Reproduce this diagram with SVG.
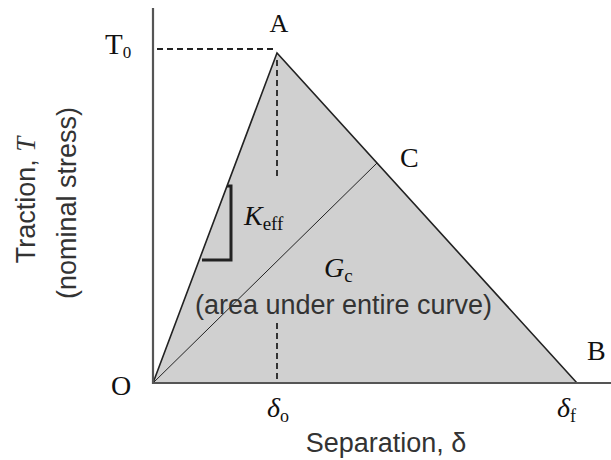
<svg xmlns="http://www.w3.org/2000/svg" width="611" height="460" viewBox="0 0 611 460">
  <style>
    .sans { font-family: "Liberation Sans", Arial, sans-serif; fill: #333; }
    .serif { font-family: "Liberation Serif", "Times New Roman", serif; fill: #111; }
    .it { font-style: italic; }
    .axis { stroke: #555; stroke-width: 2.2; fill: none; }
    .edge { stroke: #222; stroke-width: 1.6; fill: none; }
    .dash { stroke: #222; stroke-width: 1.8; stroke-dasharray: 6 4; fill: none; }
  </style>
  <rect width="611" height="460" fill="#fff"/>
  <g id="area">
    <polygon points="153,383 277,53 577,383" fill="#d0d0d0" stroke="none"/>
  </g>
  <g id="connectors">
    <line class="dash" x1="157" y1="49" x2="277" y2="49"/>
    <line class="dash" x1="277" y1="60" x2="277" y2="176"/>
    <line class="dash" x1="277" y1="323" x2="277" y2="383"/>
    <polyline class="edge" points="153,383 277,53 577,383"/>
    <line stroke="#222" stroke-width="1" x1="153" y1="383" x2="377" y2="163"/>
    <polyline fill="none" stroke="#222" stroke-width="3" points="227,186 231,186 231,260 202,260"/>
    <line class="axis" x1="153" y1="8" x2="153" y2="384"/>
    <line class="axis" x1="152" y1="383" x2="611" y2="383"/>
  </g>
  <g id="node-A"><text class="serif" x="279" y="32" font-size="26" text-anchor="middle">A</text></g>
  <g id="node-T0"><text class="serif" x="105" y="54" font-size="29">T<tspan font-size="17" dy="4">0</tspan></text></g>
  <g id="node-C"><text class="serif" x="400" y="167" font-size="28">C</text></g>
  <g id="node-B"><text class="serif" x="587" y="360" font-size="28">B</text></g>
  <g id="node-O"><text class="serif" x="111" y="395" font-size="28">O</text></g>
  <g id="node-d0"><text class="serif it" x="267" y="417" font-size="28">δ<tspan font-style="normal" font-size="18" dy="5">o</tspan></text></g>
  <g id="node-df"><text class="serif it" x="557" y="417" font-size="28">δ<tspan font-style="normal" font-size="18" dy="5">f</tspan></text></g>
  <g id="node-Keff"><text class="serif it" x="244" y="225" font-size="28">K<tspan font-style="normal" font-size="19" dy="5">eff</tspan></text></g>
  <g id="node-Gc"><text class="serif it" x="324" y="277" font-size="28">G<tspan font-style="normal" font-size="19" dy="5">c</tspan></text></g>
  <g id="node-area"><text class="sans" x="343.5" y="314" font-size="27" text-anchor="middle">(area under entire curve)</text></g>
  <g id="node-xlabel"><text class="sans" x="386" y="452" font-size="27" text-anchor="middle">Separation, δ</text></g>
  <g id="node-ylabel">
    <text class="sans" transform="translate(35,200) rotate(-90)" font-size="27" text-anchor="middle">Traction, <tspan class="it" font-family="Liberation Serif, serif">T</tspan></text>
    <text class="sans" transform="translate(76,203) rotate(-90)" font-size="27" text-anchor="middle">(nominal stress)</text>
  </g>
</svg>
